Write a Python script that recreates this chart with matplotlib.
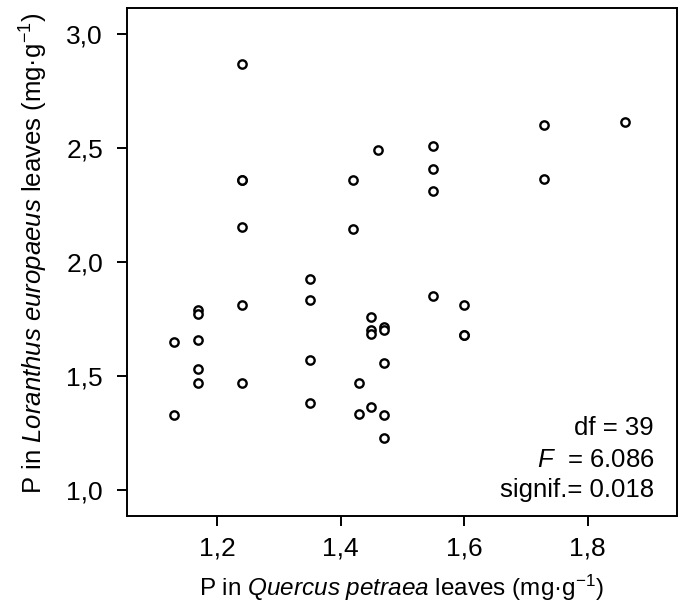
import matplotlib
matplotlib.use('Agg')
import matplotlib.pyplot as plt

plt.rcParams['font.family'] = ['Liberation Sans', 'DejaVu Sans']
plt.rcParams['mathtext.fontset'] = 'custom'
plt.rcParams['mathtext.rm'] = 'Liberation Sans'
plt.rcParams['mathtext.it'] = 'Liberation Sans:italic'

# P in Quercus petraea leaves (mg/g)
p_quercus = [1.13, 1.13,
             1.17, 1.17, 1.17, 1.17, 1.17,
             1.24, 1.24, 1.24, 1.24, 1.24, 1.24,
             1.35, 1.35, 1.35, 1.35,
             1.42, 1.42,
             1.43, 1.43,
             1.45, 1.45, 1.45, 1.45,
             1.46,
             1.47, 1.47, 1.47, 1.47, 1.47,
             1.55, 1.55, 1.55, 1.55,
             1.60, 1.60, 1.60,
             1.73, 1.73,
             1.86]
# P in Loranthus europaeus leaves (mg/g)
p_loranthus = [1.65, 1.33,
               1.79, 1.77, 1.66, 1.53, 1.47,
               2.87, 2.36, 2.36, 2.155, 1.81, 1.47,
               1.925, 1.835, 1.57, 1.38,
               2.36, 2.145,
               1.47, 1.335,
               1.76, 1.70, 1.685, 1.365,
               2.49,
               1.715, 1.70, 1.555, 1.33, 1.23,
               2.51, 2.41, 2.31, 1.85,
               1.81, 1.68, 1.68,
               2.60, 2.365,
               2.615]

x_ticks = [1.2, 1.4, 1.6, 1.8]
x_ticklabels = ['1,2', '1,4', '1,6', '1,8']
y_ticks = [1.0, 1.5, 2.0, 2.5, 3.0]
y_ticklabels = ['1,0', '1,5', '2,0', '2,5', '3,0']

stats = ['df = 39', r'$\mathit{F}$  = 6.086', 'signif.= 0.018']

fig = plt.figure(figsize=(6.79, 6.07), dpi=100)
ax = fig.add_axes([0.1866, 0.1507, 0.81, 0.8356])

ax.plot(p_quercus, p_loranthus, 'o', ms=6, mew=1.7, mfc='white', mec='black', ls='none')

ax.set_xlim(1.054, 1.944)
ax.set_ylim(0.888, 3.113)
ax.set_xticks(x_ticks)
ax.set_xticklabels(x_ticklabels)
ax.set_yticks(y_ticks)
ax.set_yticklabels(y_ticklabels)

for s in ax.spines.values():
    s.set_linewidth(1.4)
ax.tick_params(axis='both', direction='out', length=7, width=1.4, labelsize=19)
ax.tick_params(axis='x', pad=8)
ax.tick_params(axis='y', pad=10)

ax.set_xlabel(r'P in $\mathit{Quercus}$ $\mathit{petraea}$ leaves (mg·g$^{-1}$)', fontsize=17.5, labelpad=9)
ax.set_ylabel(r'P in $\mathit{Loranthus}$ $\mathit{europaeus}$ leaves (mg·g$^{-1}$)', fontsize=18.5)
ax.yaxis.set_label_coords(-0.140, 0.517)

ys = [0.1587, 0.0956, 0.0365]
for txt, yy in zip(stats, ys):
    ax.text(0.9587, yy, txt, transform=ax.transAxes, ha='right', va='baseline', fontsize=18.5)

fig.savefig('out.png', dpi=100)
